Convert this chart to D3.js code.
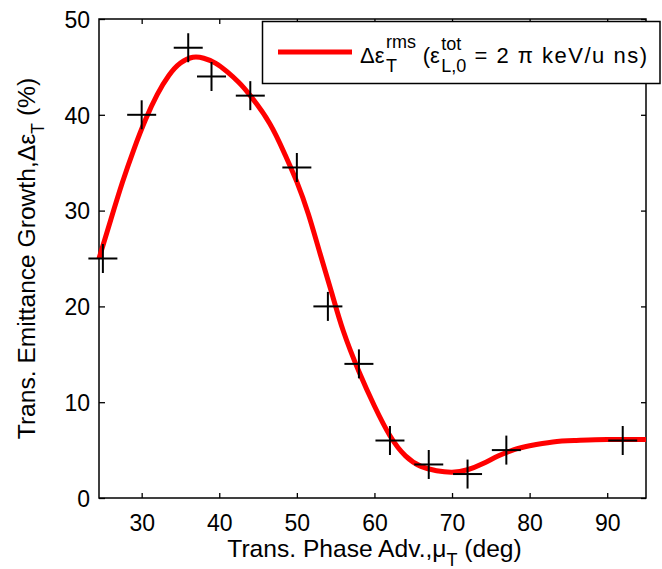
<!DOCTYPE html>
<html>
<head>
<meta charset="utf-8">
<script src="https://cdn.jsdelivr.net/npm/d3@7"></script>
<style>
  html, body { margin: 0; padding: 0; background: #fff; }
  svg { display: block; font-family: "Liberation Sans", Arial, Helvetica, sans-serif; }
  text { white-space: pre; }
</style>
</head>
<body>
<svg id="chart" width="662" height="569"></svg>
<script>
// Simulated emittance growth points (phase advance in deg, growth in %)
const muData     = [25, 30, 36, 39, 44, 50, 54, 58, 62, 67, 72, 77, 92];
const growthData = [25, 40, 47, 44, 42, 34.5, 20, 14, 6, 3.5, 2.5, 5, 6];

// Smooth fit through the simulation results
const fitMu     = [24.5, 26, 27.5, 29, 30.5, 32, 33.5, 35, 36.6, 38, 39.5, 41, 42.5, 44, 46.5, 48.5, 50, 51.5, 53, 54.5, 56, 58, 60, 62, 64, 66, 68, 70, 72, 74, 76, 78, 80, 83, 86, 90, 95];
const fitGrowth = [25.0, 29.0, 32.9, 36.4, 39.5, 42.1, 44.1, 45.4, 46.0, 45.9, 45.4, 44.5, 43.4, 42.0, 39.1, 35.8, 33.0, 29.6, 25.5, 21.4, 17.4, 13.2, 9.6, 6.5, 4.4, 3.3, 2.85, 2.7, 2.95, 3.6, 4.4, 5.05, 5.45, 5.85, 6.0, 6.1, 6.1];

const xTicks = [30, 40, 50, 60, 70, 80, 90];
const yTicks = [0, 10, 20, 30, 40, 50];

const svg = d3.select("#chart");
const L = 99, R = 646, T = 19, B = 498;

const x = d3.scaleLinear().domain([24.5, 95]).range([L, R]);
const y = d3.scaleLinear().domain([0, 50]).range([B, T]);

const tickFont = 23;

// Bottom axis with labels, ticks pointing inward
const gx = svg.append("g").attr("transform", `translate(0,${B})`)
  .call(d3.axisBottom(x).tickValues(xTicks).tickSize(-5).tickPadding(17).tickFormat(d3.format("d")));
// Left axis with labels
const gy = svg.append("g").attr("transform", `translate(${L},0)`)
  .call(d3.axisLeft(y).tickValues(yTicks).tickSize(-6).tickPadding(9).tickFormat(d3.format("d")));
// Top and right axes: ticks only
const gxt = svg.append("g").attr("transform", `translate(0,${T})`)
  .call(d3.axisTop(x).tickValues(xTicks).tickSize(-5).tickFormat(""));
const gyr = svg.append("g").attr("transform", `translate(${R},0)`)
  .call(d3.axisRight(y).tickValues(yTicks).tickSize(-5).tickFormat(""));

[gx, gy, gxt, gyr].forEach(g => {
  g.select(".domain").remove();
  g.selectAll(".tick line").attr("stroke", "#000").attr("stroke-width", 1.3);
  g.selectAll(".tick text").attr("fill", "#000").attr("font-size", tickFont)
    .attr("font-family", "Liberation Sans, Arial, sans-serif");
});
gy.selectAll(".tick text").attr("dy", "0.36em");

// Plot frame
svg.append("rect").attr("x", L).attr("y", T).attr("width", R - L).attr("height", B - T)
  .attr("fill", "none").attr("stroke", "#000").attr("stroke-width", 1.5);

// Fit curve
const fitPts = fitMu.map((m, i) => [m, fitGrowth[i]]);
svg.append("path").datum(fitPts)
  .attr("fill", "none").attr("stroke", "#ff0000").attr("stroke-width", 5)
  .attr("stroke-linejoin", "round").attr("stroke-linecap", "butt")
  .attr("d", d3.line().x(d => x(d[0])).y(d => y(d[1])).curve(d3.curveNatural));

// Data markers (plus signs)
const half = 14.5;
const markers = svg.append("g").attr("stroke", "#000").attr("stroke-width", 2);
muData.forEach((m, i) => {
  const cx = x(m), cy = y(growthData[i]);
  markers.append("line").attr("x1", cx - half).attr("x2", cx + half).attr("y1", cy).attr("y2", cy);
  markers.append("line").attr("x1", cx).attr("x2", cx).attr("y1", cy - half).attr("y2", cy + half);
});

// Axis titles
const titleFont = 24.6;
const xt = svg.append("text").attr("x", (L + R) / 2 + 2).attr("y", 557)
  .attr("text-anchor", "middle").attr("font-size", titleFont).attr("fill", "#000");
xt.append("tspan").text("Trans. Phase Adv.,μ");
xt.append("tspan").attr("dy", 9).attr("font-size", 18).text("T");
xt.append("tspan").attr("dy", -9).text(" (deg)");

const yt = svg.append("text").attr("transform", `translate(35,${(T + B) / 2}) rotate(-90)`)
  .attr("text-anchor", "middle").attr("font-size", titleFont).attr("fill", "#000");
yt.append("tspan").text("Trans. Emittance Growth,Δε");
yt.append("tspan").attr("dy", 9).attr("font-size", 18).text("T");
yt.append("tspan").attr("dy", -9).text(" (%)");

// Legend
const lg = svg.append("g");
lg.append("rect").attr("x", 262.5).attr("y", 21.5).attr("width", 397.5).attr("height", 62)
  .attr("fill", "#fff").attr("stroke", "#000").attr("stroke-width", 1.5);
lg.append("line").attr("x1", 278).attr("x2", 352).attr("y1", 52).attr("y2", 52)
  .attr("stroke", "#ff0000").attr("stroke-width", 5);

const lgFont = 22, lgSmall = 18, base = 63;
function put(str, px, py, size) {
  const t = lg.append("text").attr("x", px).attr("y", py).attr("font-size", size).attr("fill", "#000").text(str);
  return t.node().getComputedTextLength();
}
let cx = 360;
cx += put("Δε", cx, base, lgFont);
let w1 = put("T", cx + 1.5, base + 9, lgSmall);
let w2 = put("rms", cx + 1.5, base - 15, lgSmall);
cx += Math.max(w1, w2) + 2;
cx += put(" (ε", cx, base, lgFont);
w1 = put("L,0", cx + 1.5, base + 9, lgSmall);
w2 = put("tot", cx + 1.5, base - 13, lgSmall);
cx += Math.max(w1, w2) + 2;
lg.append("text").attr("x", cx).attr("y", base).attr("font-size", lgFont).attr("fill", "#000")
  .attr("textLength", 647 - cx).attr("lengthAdjust", "spacing").text(" = 2 π keV/u ns)");
</script>
</body>
</html>
